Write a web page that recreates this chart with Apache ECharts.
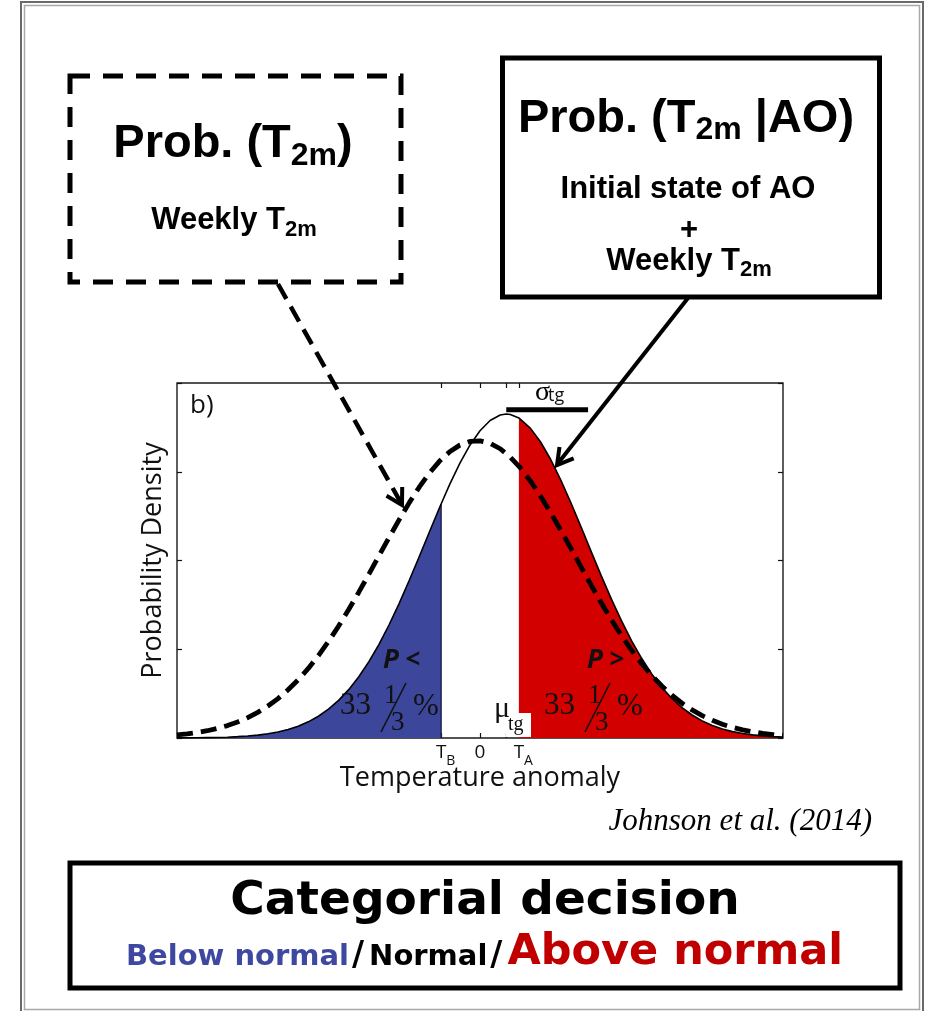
<!DOCTYPE html>
<html>
<head>
<meta charset="utf-8">
<script src="https://cdn.jsdelivr.net/npm/echarts@6/dist/echarts.min.js"></script>
<style>
  html, body { margin: 0; padding: 0; background: #ffffff; }
  #chart { width: 927px; height: 1011px; }
</style>
</head>
<body>
<div id="chart"></div>
<script>
// Sample positions along the temperature-anomaly axis (in climatological std units)
const SAMPLE_X = [
  -3.0, -2.9, -2.8, -2.7, -2.6, -2.5, -2.4, -2.3, -2.2, -2.1,
  -2.0, -1.9, -1.8, -1.7, -1.6, -1.5, -1.4, -1.3, -1.2, -1.1,
  -1.0, -0.9, -0.8, -0.7, -0.6, -0.5, -0.4, -0.3, -0.2, -0.1,
   0.0,  0.1,  0.2,  0.3,  0.4,  0.5,  0.6,  0.7,  0.8,  0.9,
   1.0,  1.1,  1.2,  1.3,  1.4,  1.5,  1.6,  1.7,  1.8,  1.9,
   2.0,  2.1,  2.2,  2.3,  2.4,  2.5,  2.6,  2.7,  2.8,  2.9,  3.0
];

// Conditional density P(T2m | AO) (solid curve)
const COND_DENSITY = [
  0.001, 0.001, 0.002, 0.004, 0.006, 0.009, 0.015, 0.022, 0.032, 0.047,
  0.068, 0.095, 0.133, 0.182, 0.245, 0.325, 0.424, 0.545, 0.690, 0.860,
  1.056, 1.276, 1.517, 1.777, 2.048, 2.324, 2.597, 2.857, 3.094, 3.299,
  3.462, 3.578, 3.640, 3.645, 3.594, 3.489, 3.335, 3.138, 2.907, 2.650,
  2.379, 2.103, 1.830, 1.568, 1.322, 1.098, 0.898, 0.722, 0.572, 0.446,
  0.343, 0.259, 0.193, 0.141, 0.102, 0.072, 0.051, 0.035, 0.024, 0.016, 0.010
];

// Climatological density P(T2m) (dashed curve)
const CLIM_DENSITY = [
  0.034, 0.046, 0.062, 0.082, 0.108, 0.140, 0.180, 0.229, 0.289, 0.360,
  0.444, 0.543, 0.656, 0.784, 0.928, 1.088, 1.261, 1.447, 1.643, 1.846,
  2.053, 2.259, 2.460, 2.652, 2.829, 2.986, 3.120, 3.225, 3.300, 3.342,
  3.348, 3.321, 3.259, 3.165, 3.043, 2.894, 2.725, 2.538, 2.340, 2.136,
  1.928, 1.723, 1.524, 1.334, 1.155, 0.990, 0.840, 0.705, 0.586, 0.482,
  0.392, 0.316, 0.252, 0.199, 0.155, 0.120, 0.091, 0.069, 0.052, 0.038, 0.028
];

// Tercile thresholds and conditional mean / spread
const T_B = -0.385, T_A = 0.385;
const MU_TG = 0.26, SIGMA_TG = 0.81;
const DENS_AT_TB = 2.637, DENS_AT_MU = 3.65, DENS_AT_TA = 3.606;
const SIGMA_BAR_Y = 3.70;

// Axis ticks and labels
const X_TICKS = [T_B, 0, MU_TG, T_A];
const X_LABEL_VALUES = [T_B, 0, T_A];
const X_LABEL_MAIN = ['T', '0', 'T'];
const X_LABEL_SUB = ['B', '', 'A'];
const Y_MIN = 0, Y_MAX = 4, Y_STEP = 1;

// ---- series data -------------------------------------------------------
const condPts = SAMPLE_X.map((x, i) => [x, COND_DENSITY[i]]);
const climPts = SAMPLE_X.map((x, i) => [x, CLIM_DENSITY[i]]);
const condLine = condPts
  .concat([[T_B, DENS_AT_TB], [MU_TG, DENS_AT_MU], [T_A, DENS_AT_TA]])
  .sort((a, b) => a[0] - b[0]);
const belowPts = condPts.filter(p => p[0] < T_B).concat([[T_B, DENS_AT_TB]]);
const abovePts = [[T_A, DENS_AT_TA]].concat(condPts.filter(p => p[0] > T_A));

// ---- text helpers ------------------------------------------------------
// Ratio between em-middle and alphabetic baseline for each family
const MID_K = {
  'Liberation Sans': 0.3465,
  'DejaVu Sans': 0.346,
  'Liberation Serif': 0.3375,
  'Open Sans': 0.388
};
const measureCtx = document.createElement('canvas').getContext('2d');
function fontOf(p) {
  return (p.i ? 'italic ' : 'normal ') + (p.w || 'normal') + ' ' + p.s + 'px "' + p.f + '"';
}
function textWidth(str, font) {
  measureCtx.font = font;
  return measureCtx.measureText(str).width;
}
// Lays out a run of differently styled pieces on one baseline
function textRun(parts, anchorX, baseline, align) {
  const fonts = parts.map(fontOf);
  const widths = parts.map((p, i) => (p.pre || 0) + textWidth(p.t, fonts[i]) + (p.post || 0));
  const total = widths.reduce((a, b) => a + b, 0);
  let x = align === 'center' ? anchorX - total / 2 : align === 'right' ? anchorX - total : anchorX;
  return parts.map((p, i) => {
    const el = {
      type: 'text', z: 100, silent: true,
      style: {
        x: x + (p.pre || 0),
        y: baseline + (p.dy || 0) - MID_K[p.f] * p.s,
        text: p.t,
        font: fonts[i],
        fill: p.c || '#000',
        textAlign: 'left',
        textVerticalAlign: 'middle'
      }
    };
    x += widths[i];
    return el;
  });
}
function box(x, y, w, h, lw, color, dash) {
  return {
    type: 'rect', z: 100, silent: true,
    shape: { x: x, y: y, width: w, height: h },
    style: { fill: 'none', stroke: color, lineWidth: lw, lineDash: dash || null }
  };
}
function poly(points, lw, dash, color) {
  return {
    type: 'polyline', z: 100, silent: true,
    shape: { points: points },
    style: { fill: 'none', stroke: color || '#000', lineWidth: lw, lineDash: dash || null, lineJoin: 'miter', lineCap: 'butt' }
  };
}

const SB = 'Liberation Sans', DJ = 'DejaVu Sans', SR = 'Liberation Serif', OS = 'Open Sans';

// ---- decorations -------------------------------------------------------
let graphics = [];
// page frame (double rule)
graphics.push(box(21, 2, 902, 1012, 2, '#6a6a6a'));
graphics.push(box(24.5, 5.5, 895, 1004, 1.5, '#a8a8a8'));

// climatological box
graphics.push(box(70, 76, 331, 206, 5, '#000', [20, 13]));
graphics = graphics.concat(textRun([
  { t: 'Prob. (T', f: SB, s: 47, w: 'bold' },
  { t: '2m', f: SB, s: 32, w: 'bold', dy: 7 },
  { t: ')', f: SB, s: 47, w: 'bold' }
], 233, 160, 'center'));
graphics = graphics.concat(textRun([
  { t: 'Weekly T', f: SB, s: 31, w: 'bold' },
  { t: '2m', f: SB, s: 22, w: 'bold', dy: 6 }
], 234, 231.5, 'center'));

// conditional box
graphics.push(box(502.5, 58, 377, 239, 5, '#000'));
graphics = graphics.concat(textRun([
  { t: 'Prob. (T', f: SB, s: 47, w: 'bold' },
  { t: '2m', f: SB, s: 32, w: 'bold', dy: 6 },
  { t: ' |AO)', f: SB, s: 47, w: 'bold' }
], 686, 135, 'center'));
graphics = graphics.concat(textRun([{ t: 'Initial state of AO', f: SB, s: 31, w: 'bold' }], 688, 200, 'center'));
graphics = graphics.concat(textRun([{ t: '+', f: SB, s: 31, w: 'bold' }], 689, 241, 'center'));
graphics = graphics.concat(textRun([
  { t: 'Weekly T', f: SB, s: 31, w: 'bold' },
  { t: '2m', f: SB, s: 22, w: 'bold', dy: 6 }
], 689, 272, 'center'));

// arrows
graphics.push(poly([[278, 284], [400.5, 502]], 4.5, [17, 9]));
graphics.push(poly([[386.5, 495.8], [402, 505], [402.2, 487]], 4));
graphics.push(poly([[688, 298], [559, 462]], 4));
graphics.push(poly([[559.5, 447], [557, 465], [573.7, 458.3]], 4));

// in-plot annotations
graphics = graphics.concat(textRun([{ t: 'b)', f: OS, s: 26, c: '#111' }], 190, 416, 'left'));
graphics = graphics.concat(textRun([{ t: 'σ', f: SR, s: 28 }], 535, 402, 'left'));
graphics = graphics.concat(textRun([{ t: 'tg', f: OS, s: 18, c: '#111' }], 548, 403, 'left'));

function probLabel(x0, sign) {
  let out = textRun([
    { t: 'P', f: OS, s: 26, w: 'bold', i: true, c: '#111' },
    { t: ' ' + sign, f: OS, s: 26, w: 'bold', c: '#111' }
  ], x0 + 43, 671, 'left');
  out = out.concat(textRun([{ t: '33', f: SR, s: 31, c: '#111' }], x0, 716, 'left'));
  out = out.concat(textRun([{ t: '1', f: SR, s: 27, c: '#111' }], x0 + 44, 705, 'left'));
  out = out.concat(textRun([{ t: '3', f: SR, s: 27, c: '#111' }], x0 + 51, 732, 'left'));
  out = out.concat(textRun([{ t: '%', f: SR, s: 31, c: '#111' }], x0 + 73, 717, 'left'));
  out.push(poly([[x0 + 41, 732], [x0 + 66, 683]], 1.6, null, '#111'));
  return out;
}
graphics = graphics.concat(probLabel(340, '<'));
graphics = graphics.concat(probLabel(544, '>'));

// mean marker label
graphics.push({
  type: 'rect', z: 99, silent: true,
  shape: { x: 506, y: 713, width: 25, height: 24 },
  style: { fill: '#ffffff' }
});
graphics = graphics.concat(textRun([{ t: 'μ', f: SR, s: 30, c: '#111' }], 494, 719, 'left'));
graphics = graphics.concat(textRun([{ t: 'tg', f: SR, s: 20, c: '#111' }], 508, 731, 'left'));

// citation
graphics = graphics.concat(textRun([{ t: 'Johnson et al. (2014)', f: SR, s: 31, i: true }], 872, 832, 'right'));

// decision box
graphics.push(box(70, 863, 830, 125, 5, '#000'));
graphics = graphics.concat(textRun([{ t: 'Categorial decision', f: DJ, s: 47, w: 'bold' }], 485, 918, 'center'));
graphics = graphics.concat(textRun([
  { t: 'Below normal', f: DJ, s: 29, w: 'bold', c: '#3f48a0' },
  { t: '/', f: DJ, s: 33, w: 'bold', pre: 3, post: 5 },
  { t: 'Normal', f: DJ, s: 29, w: 'bold' },
  { t: '/', f: DJ, s: 33, w: 'bold', pre: 3, post: 5 },
  { t: 'Above normal', f: DJ, s: 43, w: 'bold', c: '#c00000' }
], 484.5, 968, 'center'));

// ---- chart -------------------------------------------------------------
const tickStyle = { show: true, inside: true, length: 5, lineStyle: { color: '#111', width: 1.2 } };
const noLine = { show: false, onZero: false };

const option = {
  animation: false,
  backgroundColor: '#ffffff',
  grid: {
    left: 177, top: 383, right: 144, bottom: 273,
    show: true, borderColor: '#1a1a1a', borderWidth: 1.4, backgroundColor: 'transparent'
  },
  xAxis: [
    {
      type: 'value', min: -3, max: 3, position: 'bottom',
      axisLine: noLine,
      axisTick: Object.assign({ customValues: X_TICKS }, tickStyle),
      axisLabel: { show: false },
      splitLine: { show: false },
      name: 'Temperature anomaly', nameLocation: 'middle', nameGap: 27,
      nameTextStyle: { fontFamily: OS, fontSize: 27, color: '#111' }
    },
    {
      type: 'value', min: -3, max: 3, position: 'top',
      axisLine: noLine,
      axisTick: Object.assign({ customValues: X_TICKS }, tickStyle),
      axisLabel: { show: false },
      splitLine: { show: false }
    }
  ],
  yAxis: [
    {
      type: 'value', min: Y_MIN, max: Y_MAX, interval: Y_STEP, position: 'left',
      axisLine: noLine, axisTick: tickStyle,
      axisLabel: { show: false }, splitLine: { show: false },
      name: 'Probability Density', nameLocation: 'middle', nameGap: 10,
      nameTextStyle: { fontFamily: OS, fontSize: 27, color: '#111' }
    },
    {
      type: 'value', min: Y_MIN, max: Y_MAX, interval: Y_STEP, position: 'right',
      axisLine: noLine, axisTick: tickStyle,
      axisLabel: { show: false }, splitLine: { show: false }
    }
  ],
  series: [
    {
      name: 'Below normal', type: 'line', data: belowPts, symbol: 'none', z: 2,
      lineStyle: { width: 0 }, areaStyle: { color: '#3c479b', opacity: 1 }
    },
    {
      name: 'Above normal', type: 'line', data: abovePts, symbol: 'none', z: 2,
      lineStyle: { width: 0 }, areaStyle: { color: '#d30000', opacity: 1 }
    },
    {
      name: 'Lower tercile edge', type: 'line', data: [[T_B, 0], [T_B, DENS_AT_TB]], symbol: 'none', z: 3,
      lineStyle: { color: '#1c1f4d', width: 1.4 }
    },
    {
      name: 'Prob(T2m|AO)', type: 'line', data: condLine, symbol: 'none', z: 4,
      lineStyle: { color: '#000', width: 1.6 }
    },
    {
      name: 'Prob(T2m)', type: 'line', data: climPts, symbol: 'none', z: 5,
      lineStyle: { color: '#000', width: 4.8, type: [16, 8], cap: 'butt' }
    },
    {
      name: 'sigma_tg', type: 'line', data: [[MU_TG, SIGMA_BAR_Y], [MU_TG + SIGMA_TG, SIGMA_BAR_Y]],
      symbol: 'none', z: 6, clip: false,
      lineStyle: { color: '#000', width: 5, cap: 'butt' }
    }
  ],
  graphic: graphics
};

const chart = echarts.init(document.getElementById('chart'), null, { renderer: 'canvas' });
chart.setOption(option);

// Tick labels with subscripts, placed at the axis positions of their values
const axisBottom = chart.convertToPixel({ yAxisIndex: 0 }, Y_MIN);
let tickLabels = [];
X_LABEL_VALUES.forEach((v, i) => {
  const px = chart.convertToPixel({ xAxisIndex: 0 }, v);
  const mainFont = fontOf({ f: OS, s: 19 });
  const left = px - textWidth(X_LABEL_MAIN[i], mainFont) / 2;
  const parts = [{ t: X_LABEL_MAIN[i], f: OS, s: 19, c: '#111' }];
  if (X_LABEL_SUB[i]) parts.push({ t: X_LABEL_SUB[i], f: OS, s: 14, c: '#111', dy: 6 });
  tickLabels = tickLabels.concat(textRun(parts, left, axisBottom + 22, 'left'));
});
chart.setOption({ graphic: graphics.concat(tickLabels) });
</script>
</body>
</html>
